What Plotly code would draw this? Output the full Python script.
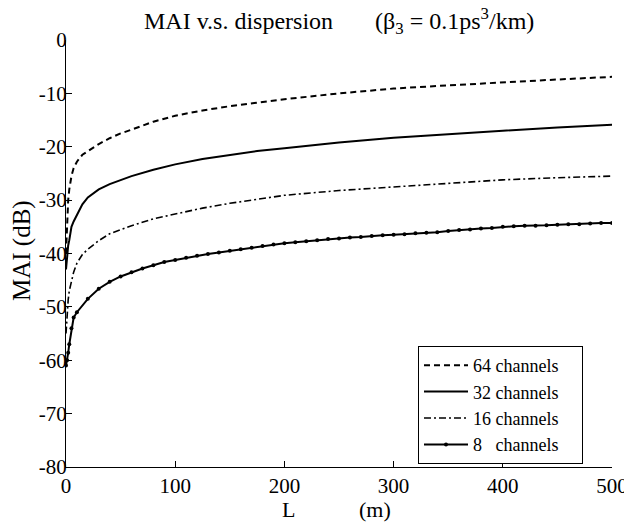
import plotly.graph_objects as go

L_main = [0, 1, 2, 3, 5, 7, 10, 15, 20, 30, 40, 50, 60, 80, 100, 125, 150, 175, 200, 250, 300, 350, 400, 450, 500]
mai_64 = [-40, -33, -30, -28, -25.5, -24, -22.8, -21.5, -20.8, -19.5, -18.4, -17.5, -16.8, -15.3, -14.2,
          -13.2, -12.4, -11.7, -11.1, -10.0, -9.1, -8.5, -7.9, -7.4, -6.9]
mai_32 = [-43, -40, -38.5, -37.5, -35, -34, -32.8, -30.8, -29.5, -28, -27, -26.2, -25.5, -24.3, -23.3,
          -22.3, -21.5, -20.8, -20.3, -19.2, -18.3, -17.6, -17.0, -16.4, -15.9]
mai_16 = [-55, -51, -48.7, -47, -45, -43.5, -41.8, -40.2, -39.2, -37.6, -36.3, -35.5, -34.8, -33.5, -32.6,
          -31.5, -30.6, -29.8, -29.1, -28.2, -27.5, -26.8, -26.2, -25.8, -25.5]

L_8 = [0, 1, 2, 3, 5, 7] + list(range(10, 501, 10))
mai_8 = [-61, -60, -58.6, -57, -54, -52,
         -51.0, -48.5, -46.6, -45.3, -44.3, -43.5, -42.8, -42.2, -41.6, -41.2,
         -40.8, -40.4, -40.1, -39.8, -39.5, -39.2, -38.9, -38.6, -38.3, -38.1,
         -37.9, -37.7, -37.5, -37.3, -37.2, -37.0, -36.9, -36.7, -36.6, -36.5,
         -36.4, -36.2, -36.1, -36.0, -35.8, -35.6, -35.5, -35.3, -35.2, -35.0,
         -34.9, -34.8, -34.8, -34.7, -34.6, -34.5, -34.5, -34.4, -34.3, -34.3]

x_ticks = [0, 100, 200, 300, 400, 500]
y_ticks = [0, -10, -20, -30, -40, -50, -60, -70, -80]

FONT = "Liberation Serif, Times New Roman, serif"
NB = "\u00a0"
PAD = NB * 4

fig = go.Figure()
fig.add_trace(go.Scatter(x=L_main, y=mai_64, mode="lines", name="64 channels" + PAD,
                         line=dict(color="black", width=2, dash="6px,4px")))
fig.add_trace(go.Scatter(x=L_main, y=mai_32, mode="lines", name="32 channels" + PAD,
                         line=dict(color="black", width=2)))
fig.add_trace(go.Scatter(x=L_main, y=mai_16, mode="lines", name="16 channels" + PAD,
                         line=dict(color="black", width=1.6, dash="7px,3px,2px,3px")))
fig.add_trace(go.Scatter(x=L_8, y=mai_8, mode="lines+markers", name="8" + NB * 3 + "channels" + PAD,
                         line=dict(color="black", width=2),
                         marker=dict(color="black", size=4, symbol="circle")))

# page body has an 8px margin: the figure is shrunk by 8px so the plot area lands at x 66..612, y 40..467
fig.update_layout(
    width=624, height=515,
    paper_bgcolor="white", plot_bgcolor="white",
    margin=dict(l=58, r=20, t=32, b=56, autoexpand=False),
    font=dict(family=FONT, size=20, color="black"),
    showlegend=True,
    legend=dict(x=(418 - 66) / 546, y=(467 - 346) / 427, xanchor="left", yanchor="top",
                bordercolor="black", borderwidth=1, bgcolor="white",
                font=dict(family=FONT, size=18, color="black"),
                tracegroupgap=0, itemwidth=44),
    annotations=[
        dict(text="MAI v.s. dispersion" + NB * 7 + "(β<sub>3</sub> = 0.1ps<sup>3</sup>/km)",
             x=0.5, y=1.045, xref="paper", yref="paper", showarrow=False,
             yanchor="middle", font=dict(family=FONT, size=24)),
        dict(text="L", x=(288 - 66) / 546, y=-(510 - 467) / 427, xref="paper", yref="paper",
             showarrow=False, yanchor="middle", font=dict(family=FONT, size=22)),
        dict(text="(m)", x=(375 - 66) / 546, y=-(510 - 467) / 427, xref="paper", yref="paper",
             showarrow=False, yanchor="middle", font=dict(family=FONT, size=22)),
        dict(text="MAI (dB)", x=(22 - 66) / 546, y=(467 - 251) / 427, xref="paper", yref="paper",
             showarrow=False, textangle=-90, xanchor="center", yanchor="middle",
             font=dict(family=FONT, size=25)),
    ],
)

fig.update_xaxes(range=[0, 500], tickvals=x_ticks, ticktext=[str(v) for v in x_ticks],
                 showline=True, linecolor="black", linewidth=1, mirror=False, automargin=False,
                 ticks="inside", ticklen=6, tickcolor="black", showgrid=False, zeroline=False,
                 tickfont=dict(family=FONT, size=21), ticklabelstandoff=0)
fig.update_yaxes(range=[-80, 0], tickvals=y_ticks, ticktext=[str(v) for v in y_ticks],
                 showline=True, linecolor="black", linewidth=1, mirror=False, automargin=False,
                 ticks="inside", ticklen=6, tickcolor="black", showgrid=False, zeroline=False,
                 tickfont=dict(family=FONT, size=21), ticklabelstandoff=-6)

fig.write_html("out.html")
